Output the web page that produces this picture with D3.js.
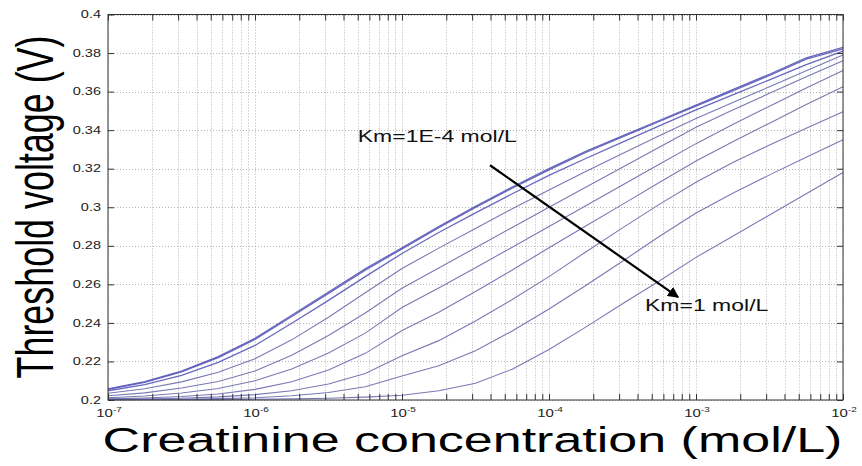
<!DOCTYPE html>
<html>
<head>
<meta charset="utf-8">
<script src="https://cdn.jsdelivr.net/npm/d3@7/dist/d3.min.js"></script>
<style>
  html, body { margin: 0; padding: 0; background: #ffffff; }
  svg { display: block; }
  text { font-family: "Liberation Sans", Arial, Helvetica, sans-serif; }
</style>
</head>
<body>
<svg id="chart" width="862" height="466"></svg>
<script>
// ---------- data ----------
const concentrations = [1e-7, 1.778e-7, 3.162e-7, 5.623e-7, 1e-6, 1.778e-6, 3.162e-6, 5.623e-6,
  1e-5, 1.778e-5, 3.162e-5, 5.623e-5, 1e-4, 1.778e-4, 3.162e-4, 5.623e-4,
  1e-3, 1.778e-3, 3.162e-3, 5.623e-3, 1e-2];

const curve1 = [.2058, .2095, .2150, .2225, .2320, .2440, .2560, .2680, .2790, .2900, .3005, .3105, .3200, .3290, .3370, .3450, .3530, .3610, .3690, .3775, .3830];
const curve2 = [.2055, .2092, .2146, .2220, .2314, .2433, .2553, .2673, .2784, .2894, .2999, .3099, .3194, .3284, .3365, .3445, .3525, .3604, .3684, .3768, .3822];
const curve3 = [.2048, .2080, .2128, .2195, .2283, .2398, .2517, .2640, .2760, .2869, .2971, .3070, .3165, .3253, .3338, .3422, .3505, .3583, .3661, .3740, .3810];
const curve4 = [.2035, .2058, .2094, .2144, .2214, .2312, .2429, .2556, .2682, .2788, .2890, .2992, .3090, .3186, .3279, .3371, .3460, .3543, .3625, .3708, .3790];
const curve5 = [.2022, .2037, .2062, .2096, .2150, .2232, .2335, .2451, .2580, .2685, .2790, .2895, .3000, .3104, .3208, .3311, .3415, .3505, .3591, .3677, .3760];
const curve6 = [.2012, .2021, .2036, .2060, .2100, .2161, .2244, .2347, .2480, .2581, .2686, .2793, .2900, .3008, .3115, .3223, .3330, .3429, .3524, .3619, .3710];
const curve7 = [.2006, .2010, .2018, .2031, .2055, .2095, .2156, .2242, .2361, .2455, .2563, .2674, .2790, .2903, .3015, .3128, .3240, .3340, .3436, .3533, .3625];
const curve8 = [.2003, .2005, .2009, .2016, .2028, .2048, .2083, .2137, .2230, .2308, .2410, .2521, .2640, .2768, .2893, .3015, .3130, .3232, .3323, .3410, .3495];
const curve9 = [.2002, .2003, .2004, .2007, .2012, .2022, .2039, .2069, .2125, .2178, .2256, .2358, .2472, .2594, .2720, .2848, .2970, .3073, .3168, .3259, .3350];
const curve10 = [.2001, .2001, .2002, .2002, .2004, .2006, .2009, .2015, .2025, .2048, .2087, .2160, .2262, .2378, .2499, .2617, .2740, .2850, .2960, .3070, .3180];

const xTickValues = [1e-7, 1e-6, 1e-5, 1e-4, 1e-3, 1e-2];
const xTickExponents = ["-7", "-6", "-5", "-4", "-3", "-2"];
const yTickValues = [0.2, 0.22, 0.24, 0.26, 0.28, 0.3, 0.32, 0.34, 0.36, 0.38, 0.4];
const yTickLabels = ["0.2", "0.22", "0.24", "0.26", "0.28", "0.3", "0.32", "0.34", "0.36", "0.38", "0.4"];

const xLabel = "Creatinine concentration (mol/L)";
const yLabel = "Threshold voltage (V)";
const annotTop = { text: "Km=1E-4 mol/L", c: 5.0e-6, v: 0.3339 };
const annotBottom = { text: "Km=1 mol/L", c: 4.5e-4, v: 0.2460 };
const arrowFrom = { c: 3.97e-5, v: 0.3218 };
const arrowTo = { c: 7.55e-4, v: 0.2534 };

// ---------- layout ----------
const plotL = 108, plotR = 843, plotT = 14.5, plotB = 400;
const sy = 0.7; // vertical squash of the text in the reference

const svg = d3.select("#chart");
const x = d3.scaleLog().domain([1e-7, 1e-2]).range([plotL, plotR]);
const y = d3.scaleLinear().domain([0.2, 0.4]).range([plotB, plotT]);

// grid
const gridX = x.ticks();
const grid = svg.append("g").attr("stroke", "#b4b4b4").attr("stroke-width", 1).attr("stroke-dasharray", "1,2");
grid.selectAll("line.gx").data(gridX).join("line")
  .attr("x1", d => Math.round(x(d)) + 0.5).attr("x2", d => Math.round(x(d)) + 0.5)
  .attr("y1", plotT).attr("y2", plotB);
grid.selectAll("line.gy").data(yTickValues).join("line")
  .attr("x1", plotL).attr("x2", plotR)
  .attr("y1", d => Math.round(y(d)) + 0.5).attr("y2", d => Math.round(y(d)) + 0.5);

// curves
const series = [curve1, curve2, curve3, curve4, curve5, curve6, curve7, curve8, curve9, curve10];
const line = d3.line().x((d, i) => x(concentrations[i])).y(d => y(d));
svg.append("g").selectAll("path").data(series).join("path")
  .attr("d", d => line(d))
  .attr("fill", "none")
  .attr("stroke", (d, i) => i < 3 ? "#5858b8" : "#6a6aae")
  .attr("stroke-width", (d, i) => i < 3 ? 1.3 : 1.1)
  .attr("stroke-opacity", 0.9);

// axes (ticks inside, box)
const tickLen = 6;
const axColor = "#333";
function styleAxis(g) {
  g.select(".domain").remove();
  g.selectAll(".tick line").attr("stroke", axColor);
}
svg.append("g").attr("transform", `translate(0,${plotB})`)
  .call(d3.axisBottom(x).tickValues(gridX).tickSize(-tickLen).tickFormat(""))
  .call(styleAxis);
svg.append("g").attr("transform", `translate(0,${plotT})`)
  .call(d3.axisTop(x).tickValues(gridX).tickSize(-tickLen).tickFormat(""))
  .call(styleAxis);
svg.append("g").attr("transform", `translate(${plotL},0)`)
  .call(d3.axisLeft(y).tickValues(yTickValues).tickSize(-tickLen).tickFormat(""))
  .call(styleAxis);
svg.append("g").attr("transform", `translate(${plotR},0)`)
  .call(d3.axisRight(y).tickValues(yTickValues).tickSize(-tickLen).tickFormat(""))
  .call(styleAxis);
svg.append("rect").attr("x", plotL).attr("y", plotT).attr("width", plotR - plotL).attr("height", plotB - plotT)
  .attr("fill", "none").attr("stroke", axColor).attr("stroke-width", 1);

// y tick labels
svg.append("g").selectAll("text").data(yTickValues).join("text")
  .attr("transform", d => `translate(${plotL - 7},${y(d)}) scale(1,${sy})`)
  .attr("dy", "0.36em")
  .attr("text-anchor", "end")
  .attr("font-size", 14.5)
  .attr("fill", "#222")
  .text((d, i) => yTickLabels[i]);

// x tick labels
const xl = svg.append("g").selectAll("text").data(xTickValues).join("text")
  .attr("transform", d => `translate(${x(d) + 1},${plotB + 17}) scale(1,${sy})`)
  .attr("text-anchor", "middle")
  .attr("font-size", 15)
  .attr("fill", "#222");
xl.append("tspan").text("10");
xl.append("tspan").attr("font-size", 10).attr("dy", -7).text((d, i) => xTickExponents[i]);

// axis titles
svg.append("text")
  .attr("transform", `translate(${(plotL + plotR) / 2 - 3},452) scale(1,0.66)`)
  .attr("text-anchor", "middle")
  .attr("font-size", 52)
  .attr("fill", "#000")
  .text(xLabel);
svg.append("text")
  .attr("transform", `translate(53,207) scale(1,0.69) rotate(-90)`)
  .attr("text-anchor", "middle")
  .attr("font-size", 52)
  .attr("fill", "#000")
  .text(yLabel);

// annotations
svg.append("defs").append("marker")
  .attr("id", "ah").attr("viewBox", "0 0 10 10").attr("refX", 9).attr("refY", 5)
  .attr("markerWidth", 5).attr("markerHeight", 5).attr("orient", "auto")
  .append("path").attr("d", "M0,0 L10,5 L0,10 z").attr("fill", "#000");
svg.append("line")
  .attr("x1", x(arrowFrom.c)).attr("y1", y(arrowFrom.v))
  .attr("x2", x(arrowTo.c)).attr("y2", y(arrowTo.v))
  .attr("stroke", "#000").attr("stroke-width", 2.2).attr("marker-end", "url(#ah)");
[annotTop, annotBottom].forEach(a => {
  svg.append("text")
    .attr("transform", `translate(${x(a.c)},${y(a.v)}) scale(1,0.72)`)
    .attr("font-size", 23)
    .attr("fill", "#111")
    .text(a.text);
});
</script>
</body>
</html>
